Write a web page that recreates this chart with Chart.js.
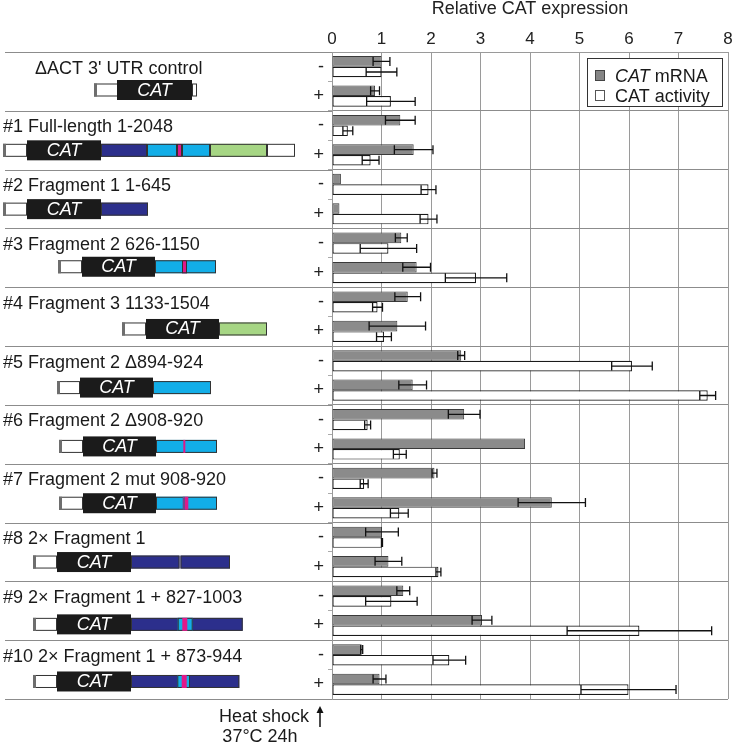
<!DOCTYPE html>
<html><head><meta charset="utf-8">
<script src="https://cdn.jsdelivr.net/npm/chart.js@4.4.1/dist/chart.umd.min.js"></script>
<style>html,body{margin:0;padding:0;background:#fff;}#wrap{position:relative;width:732px;height:745px;}</style>
</head><body><div id="wrap"><canvas id="c" width="732" height="745"></canvas></div>
<script>
// ---------- data ----------
const constructs = ["\u0394ACT 3' UTR control", "#1 Full-length 1-2048", "#2 Fragment 1 1-645",
  "#3 Fragment 2 626-1150", "#4 Fragment 3 1133-1504", "#5 Fragment 2 \u0394894-924",
  "#6 Fragment 2 \u0394908-920", "#7 Fragment 2 mut 908-920", "#8 2\u00d7 Fragment 1",
  "#9 2\u00d7 Fragment 1 + 827-1003", "#10 2\u00d7 Fragment 1 + 873-944"];
const heatShock = ['-', '+'];
const xTicks = [0, 1, 2, 3, 4, 5, 6, 7, 8];
const mrna =        [1.00,0.87, 1.38,1.65, 0.18,0.15, 1.40,1.71, 1.53,1.32, 2.61,1.63, 2.67,3.90, 2.07,4.44, 1.01,1.14, 1.44,3.03, 0.60,0.96];
const mrnaErr =     [0.17,0.09, 0.30,0.39, 0.00,0.00, 0.12,0.28, 0.26,0.57, 0.07,0.28, 0.32,0.00, 0.05,0.68, 0.33,0.27, 0.13,0.20, 0.02,0.13];
const activity =    [1.00,1.19, 0.32,0.78, 1.95,1.95, 1.14,2.91, 0.92,1.05, 6.06,7.59, 0.72,1.37, 0.65,1.36, 1.01,2.15, 1.20,6.21, 2.37,5.99];
const activityErr = [0.31,0.49, 0.10,0.17, 0.15,0.17, 0.57,0.62, 0.10,0.15, 0.41,0.16, 0.06,0.13, 0.08,0.18, 0.01,0.05, 0.52,1.46, 0.33,0.96];

const categories = constructs.flatMap(c => heatShock.map(h => c + ' ' + h));

// ---------- schematic construct maps (drawing layout, px) ----------
const FONT = "'Liberation Sans', Arial, Helvetica, sans-serif";
const COL = {u:'#ffffff', w:'#ffffff', cat:'#1b1b1b', b:'#2c2f8c', c:'#12aee8', m:'#e0198a', g:'#a6d684', p:'#6b4a8e'};
const maps = [
  {lx:35, dy:-1.5, parts:[['u',94,118],['w',192,197],['cat',117,192]]},
  {lx:3, dy:0, parts:[['u',3,27],['b',101,147],['c',147,177],['m',177,182],['c',182,210],['g',210,267],['w',267,295],['cat',27,101]]},
  {lx:3, dy:0, parts:[['u',3,27],['b',101,148],['cat',27,101]]},
  {lx:3, dy:-1.2, parts:[['u',58,82],['c',155,216],['m',182,187],['cat',82,155]]},
  {lx:3, dy:2.2, parts:[['u',122,146],['g',219,267],['cat',146,219]]},
  {lx:3, dy:2, parts:[['u',57,80],['c',153,211],['cat',80,153]]},
  {lx:3, dy:2, parts:[['u',59,83],['c',156,217],['m',183.3,185.3,'line'],['cat',83,156]]},
  {lx:3, dy:0, parts:[['u',59,83],['c',156,217],['p',182.7,185,'line'],['m',185,188.3,'line'],['cat',83,156]]},
  {lx:3, dy:0, parts:[['u',33,57],['b',131,179.5],['b',180.5,230],['cat',57,131]]},
  {lx:3, dy:3.5, parts:[['u',33,57],['b',131,242.7],['c',177.7,192.7],['m',182.3,187.3,'line'],['cat',57,131]]},
  {lx:3, dy:1.8, parts:[['u',33,57],['b',131,239.3],['c',177.3,190],['m',181.7,186.7,'line'],['cat',57,131]]}
];

// ---------- plugins ----------
const errorBars = {
  id: 'errorBars',
  afterDatasetsDraw(chart) {
    const ctx = chart.ctx, xs = chart.scales.x;
    [mrnaErr, activityErr].forEach((errs, di) => {
      const meta = chart.getDatasetMeta(di);
      const vals = chart.data.datasets[di].data;
      meta.data.forEach((bar, i) => {
        const e = errs[i]; if (!e) return;
        const x1 = xs.getPixelForValue(vals[i] - e), x2 = xs.getPixelForValue(vals[i] + e);
        const y = bar.y, h = bar.height * 0.85;
        ctx.save();
        ctx.strokeStyle = '#111'; ctx.lineWidth = 1.3;
        ctx.beginPath();
        ctx.moveTo(x1, y); ctx.lineTo(x2, y);
        ctx.moveTo(x1, y - h/2); ctx.lineTo(x1, y + h/2);
        ctx.moveTo(x2, y - h/2); ctx.lineTo(x2, y + h/2);
        ctx.stroke();
        ctx.restore();
      });
    });
  }
};

const decorations = {
  id: 'decorations',
  afterDraw(chart) {
    const ctx = chart.ctx, ys = chart.scales.y, area = chart.chartArea;
    const catH = ys.getPixelForValue(1) - ys.getPixelForValue(0);
    ctx.save();
    // left separators
    ctx.strokeStyle = '#8c8c8c'; ctx.lineWidth = 1;
    for (let k = 0; k <= constructs.length; k++) {
      const y = Math.round(ys.getPixelForValue(2*k) - catH/2) + 0.5;
      ctx.beginPath(); ctx.moveTo(5, y); ctx.lineTo(area.left, y); ctx.stroke();
    }
    // construct labels and diagrams
    constructs.forEach((name, k) => {
      const top = ys.getPixelForValue(2*k) - catH/2;
      const m = maps[k];
      ctx.fillStyle = '#1a1a1a';
      ctx.font = '18px ' + FONT; ctx.textAlign = 'left'; ctx.textBaseline = 'alphabetic';
      ctx.fillText(name, m.lx, top + 21.5);
      const cy = top + 39.5 + m.dy;
      m.parts.forEach(p => {
        const [t, x1, x2, kind] = p;
        if (t === 'cat') {
          ctx.fillStyle = COL.cat; ctx.fillRect(x1, cy - 10, x2 - x1, 20);
          ctx.fillStyle = '#fff'; ctx.font = 'italic 18px ' + FONT; ctx.textAlign = 'center'; ctx.textBaseline = 'middle';
          ctx.fillText('CAT', (x1 + x2)/2, cy + 0.5);
          return;
        }
        const hh = 6.5;
        ctx.fillStyle = COL[t];
        ctx.fillRect(x1, cy - hh, x2 - x1, 2*hh);
        if (kind !== 'line') {
          ctx.strokeStyle = '#333'; ctx.lineWidth = 1;
          ctx.strokeRect(x1 + 0.5, cy - hh + 0.5, x2 - x1 - 1, 2*hh - 1);
        }
        if (t === 'u') { ctx.fillStyle = '#6e6e6e'; ctx.fillRect(x1, cy - hh, 3, 2*hh); }
      });
    });
    // legend
    ctx.fillStyle = '#fff'; ctx.fillRect(587, 58, 136, 49);
    ctx.strokeStyle = '#333'; ctx.lineWidth = 1; ctx.strokeRect(587.5, 58.5, 135, 48);
    ctx.fillStyle = '#858585'; ctx.fillRect(595, 70, 10, 11);
    ctx.strokeStyle = '#444'; ctx.strokeRect(595.5, 70.5, 9, 10);
    ctx.fillStyle = '#fff'; ctx.fillRect(595, 90, 10, 11);
    ctx.strokeStyle = '#555'; ctx.strokeRect(595.5, 90.5, 9, 10);
    ctx.fillStyle = '#1a1a1a'; ctx.textAlign = 'left'; ctx.textBaseline = 'alphabetic';
    ctx.font = 'italic 18px ' + FONT; ctx.fillText('CAT', 615, 82);
    const w = ctx.measureText('CAT').width;
    ctx.font = '18px ' + FONT; ctx.fillText(' mRNA', 615 + w, 82);
    ctx.fillText('CAT activity', 615, 102);
    // heat shock note
    ctx.textAlign = 'right'; ctx.fillText('Heat shock', 309, 722);
    ctx.textAlign = 'center'; ctx.fillText('37\u00b0C 24h', 260, 742);
    ctx.strokeStyle = '#111'; ctx.lineWidth = 1.5;
    ctx.beginPath(); ctx.moveTo(320, 727); ctx.lineTo(320, 711); ctx.stroke();
    ctx.fillStyle = '#111';
    ctx.beginPath(); ctx.moveTo(320, 706); ctx.lineTo(316.5, 713); ctx.lineTo(323.5, 713); ctx.closePath(); ctx.fill();
    ctx.restore();
  }
};

new Chart(document.getElementById('c'), {
  type: 'bar',
  data: {
    labels: categories,
    datasets: [
      {label: 'CAT mRNA', data: mrna, backgroundColor: '#8b8b8b', borderColor: '#3a3a3a', borderWidth: 1,
       borderSkipped: false, categoryPercentage: 0.72, barPercentage: 1},
      {label: 'CAT activity', data: activity, backgroundColor: '#ffffff', borderColor: '#1a1a1a', borderWidth: 1.2,
       borderSkipped: false, categoryPercentage: 0.72, barPercentage: 1}
    ]
  },
  options: {
    indexAxis: 'y',
    responsive: false,
    animation: false,
    layout: {padding: {left: 0, right: 4, top: 0, bottom: 46}},
    plugins: {legend: {display: false}, tooltip: {enabled: false}},
    scales: {
      x: {
        position: 'top', min: 0, max: 8,
        afterBuildTicks: s => { s.ticks = xTicks.map(v => ({value: v})); },
        ticks: {font: {size: 17, family: FONT}, color: '#222', padding: 2},
        grid: {color: '#9a9a9a', lineWidth: 1, drawTicks: false},
        border: {display: true, color: '#9a9a9a'},
        title: {display: true, text: 'Relative CAT expression', color: '#222',
                font: {size: 18, family: FONT, lineHeight: 1}, padding: {top: 0, bottom: 0}},
        afterFit: s => { s.height = 52; s.paddingLeft = 0; s.paddingRight = 0; }
      },
      y: {
        offset: true,
        ticks: {callback: (v, i) => heatShock[i % 2], font: {size: 18, family: FONT}, color: '#222', padding: 4},
        grid: {offset: true, lineWidth: 1, tickLength: 4,
               color: c => (c.index === undefined || c.index % 2 === 0) ? '#8c8c8c' : 'rgba(0,0,0,0)',
               tickColor: '#aaaaaa'},
        border: {display: true, color: '#9a9a9a'},
        afterFit: s => { s.width = 332; s.paddingTop = 0; s.paddingBottom = 0; }
      }
    }
  },
  plugins: [errorBars, decorations]
});
</script></body></html>
